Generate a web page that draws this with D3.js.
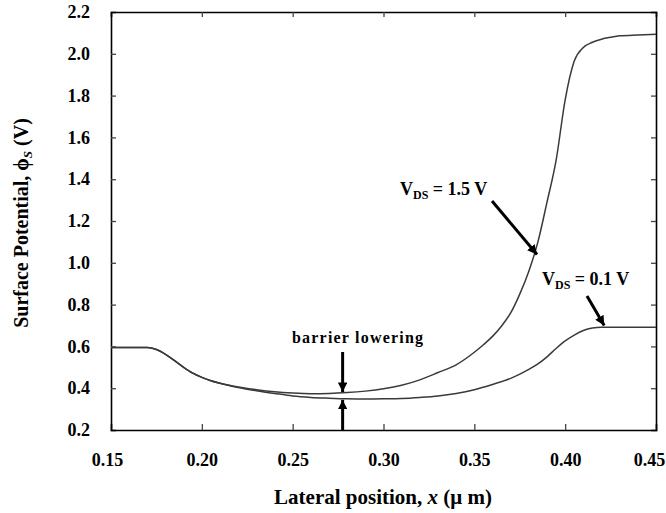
<!DOCTYPE html>
<html><head><meta charset="utf-8">
<script src="https://cdn.jsdelivr.net/npm/d3@7"></script>
<style>
body{margin:0;background:#fff;}
svg{display:block;font-family:"Liberation Serif","Times New Roman",serif;font-weight:bold;}
</style></head>
<body><svg id="chart" width="666" height="513"></svg>
<script>
// ---- data ----
const xTicks = [0.15, 0.20, 0.25, 0.30, 0.35, 0.40, 0.45];
const yTicks = [0.2, 0.4, 0.6, 0.8, 1.0, 1.2, 1.4, 1.6, 1.8, 2.0, 2.2];

const x15 = [0.15,0.17,0.175,0.18,0.185,0.19,0.195,0.20,0.205,0.21,0.22,0.23,0.24,0.25,0.26,0.27,0.28,0.29,0.30,0.31,0.32,0.33,0.34,0.35,0.355,0.36,0.365,0.37,0.375,0.38,0.385,0.39,0.395,0.40,0.405,0.41,0.415,0.42,0.425,0.43,0.44,0.45];
const v15 = [0.595,0.595,0.585,0.562,0.532,0.500,0.472,0.452,0.436,0.424,0.406,0.393,0.383,0.377,0.374,0.375,0.379,0.386,0.397,0.414,0.440,0.475,0.512,0.572,0.608,0.648,0.698,0.760,0.850,0.960,1.100,1.290,1.490,1.780,1.965,2.030,2.055,2.070,2.079,2.086,2.090,2.093];

const x01 = [0.15,0.17,0.175,0.18,0.185,0.19,0.195,0.20,0.205,0.21,0.22,0.23,0.24,0.25,0.26,0.27,0.28,0.29,0.30,0.31,0.32,0.33,0.34,0.35,0.36,0.37,0.38,0.385,0.39,0.395,0.40,0.405,0.41,0.415,0.42,0.43,0.45];
const v01 = [0.595,0.595,0.585,0.562,0.532,0.500,0.472,0.452,0.436,0.424,0.403,0.388,0.375,0.363,0.356,0.352,0.349,0.348,0.349,0.351,0.356,0.363,0.375,0.393,0.418,0.447,0.490,0.516,0.550,0.590,0.626,0.654,0.676,0.688,0.692,0.692,0.692];

const labels = {y: "Surface Potential, ", x: "Lateral position, "};

// ---- layout ----
const W = 666, H = 513;
const L = 111, R = 656, T = 12, B = 430;
const svg = d3.select("#chart");
const xs = d3.scaleLinear().domain([0.15, 0.45]).range([L, R]);
const ys = d3.scaleLinear().domain([0.2, 2.2]).range([B, T]);

const tickColor = "#444";
const gB = svg.append("g").attr("transform", `translate(0,${B})`)
  .call(d3.axisBottom(xs).tickValues(xTicks).tickSize(-6).tickPadding(23).tickFormat(d3.format(".2f")));
const gT = svg.append("g").attr("transform", `translate(0,${T})`)
  .call(d3.axisTop(xs).tickValues(xTicks).tickSize(-5).tickFormat(""));
const gL = svg.append("g").attr("transform", `translate(${L},0)`)
  .call(d3.axisLeft(ys).tickValues(yTicks).tickSize(-5).tickPadding(21).tickFormat(d3.format(".1f")));
const gR = svg.append("g").attr("transform", `translate(${R},0)`)
  .call(d3.axisRight(ys).tickValues(yTicks).tickSize(-5).tickFormat(""));

[gB, gT, gL, gR].forEach(g => {
  g.select(".domain").attr("stroke", "#000").attr("stroke-width", 1.6);
  g.selectAll(".tick line").attr("stroke", tickColor).attr("stroke-width", 1.3);
  g.selectAll("text").attr("fill", "#000").style("font-family", '"Liberation Serif",serif')
   .style("font-weight", "bold").style("font-size", "18px");
});
gB.selectAll(".tick text").attr("dx", (d, i) => i === 0 ? -4 : (i === xTicks.length - 1 ? -7 : 0));

gL.selectAll(".tick line").filter(d => d === 0.2 || d === 2.2).remove();
gR.selectAll(".tick line").filter(d => d === 0.2 || d === 2.2).remove();
gB.selectAll(".tick line").filter(d => d === 0.15 || d === 0.45).remove();
gT.selectAll(".tick line").filter(d => d === 0.15 || d === 0.45).remove();

// ---- curves ----
const line = d3.line().x(d => xs(d[0])).y(d => ys(d[1])).curve(d3.curveMonotoneX);
svg.append("path").datum(x15.map((x, i) => [x, v15[i]]))
  .attr("d", line).attr("fill", "none").attr("stroke", "#3a3a3a").attr("stroke-width", 1.5);
svg.append("path").datum(x01.map((x, i) => [x, v01[i]]))
  .attr("d", line).attr("fill", "none").attr("stroke", "#3a3a3a").attr("stroke-width", 1.5);

// ---- arrows ----
const defs = svg.append("defs");
defs.append("marker").attr("id", "ah").attr("viewBox", "0 0 10 10").attr("refX", 10).attr("refY", 5)
  .attr("markerWidth", 3.2).attr("markerHeight", 3.2).attr("orient", "auto")
  .append("path").attr("d", "M0,0 L10,5 L0,10 Z").attr("fill", "#000");
function arrow(x1, y1, x2, y2) {
  svg.append("line").attr("x1", x1).attr("y1", y1).attr("x2", x2).attr("y2", y2)
    .attr("stroke", "#000").attr("stroke-width", 3).attr("marker-end", "url(#ah)");
}
arrow(492, 201, xs(0.3845), ys(1.04));
arrow(587, 296, xs(0.4215), ys(0.70));
arrow(xs(0.2775), 352, xs(0.2775), ys(0.377) - 1);
arrow(xs(0.2775), B, xs(0.2775), ys(0.349) + 1);

// ---- annotation text ----
function vds(xp, yp, val) {
  const t = svg.append("text").attr("x", xp).attr("y", yp).attr("fill", "#000").style("font-size", "18px");
  t.append("tspan").text("V");
  t.append("tspan").attr("dy", 4).style("font-size", "12px").text("DS");
  t.append("tspan").attr("dy", -4).text(" = " + val + " V");
}
vds(400, 195, "1.5");
vds(542, 285, "0.1");

svg.append("text").attr("x", 292).attr("y", 343).attr("fill", "#000")
  .style("font-size", "16px").attr("textLength", 131).attr("lengthAdjust", "spacing")
  .text("barrier lowering");

// ---- axis titles ----
const yt = svg.append("text").attr("transform", `translate(28,${(T + B) / 2 + 2}) rotate(-90)`)
  .attr("text-anchor", "middle").attr("fill", "#000").style("font-size", "20px");
yt.append("tspan").text(labels.y);
yt.append("tspan").text("ϕ");
yt.append("tspan").attr("dy", 4).style("font-size", "13px").style("font-style", "italic").text("S");
yt.append("tspan").attr("dy", -4).text(" (V)");

const xt = svg.append("text").attr("x", 383).attr("y", 504)
  .attr("text-anchor", "middle").attr("fill", "#000").style("font-size", "21px");
xt.append("tspan").text(labels.x);
xt.append("tspan").style("font-style", "italic").text("x");
xt.append("tspan").text(" (μ m)");
</script></body></html>
